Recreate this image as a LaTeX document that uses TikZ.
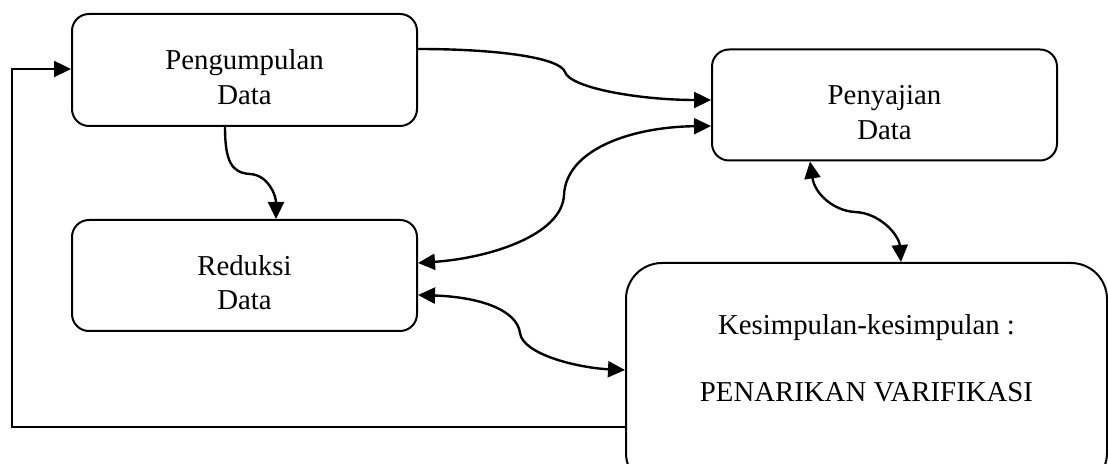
\documentclass[tikz,border=0pt]{standalone}
\usepackage{fontspec}
\setmainfont{Liberation Serif}
\usetikzlibrary{arrows.meta,calc}
\tikzset{
  boxstyle/.style={draw, line width=1pt, rounded corners=8.5pt, inner sep=0pt, align=center,
    font=\fontsize{14.4}{17.3}\selectfont},
  conn/.style={line width=1.2pt},
  tipend/.style={conn, -{Triangle[length=8.5pt,width=8pt]}},
  tipboth/.style={conn, {Triangle[length=8.5pt,width=8pt]}-{Triangle[length=8.5pt,width=8pt]}},
}
\newcommand{\topstrut}{\rule{0pt}{17pt}}
\begin{document}
\begin{tikzpicture}[x=0.5pt,y=-0.5pt]
\useasboundingbox (0,0) rectangle (1108,464);
\node[boxstyle, minimum width=172.5pt, minimum height=56pt] (pg) at (244.5,70) {\topstrut Pengumpulan\\Data};
\node[boxstyle, minimum width=172.5pt, minimum height=55.5pt] (rd) at (244.5,275.5) {\topstrut Reduksi\\Data};
\node[boxstyle, minimum width=172.5pt, minimum height=55.5pt] (pj) at (884.5,105) {\topstrut Penyajian\\Data};
\node[boxstyle, rounded corners=18pt, minimum width=240.5pt, minimum height=113pt] (ks) at (866.5,376)
  {Kesimpulan-kesimpulan :\\[16pt]PENARIKAN VARIFIKASI\rule[-18pt]{0pt}{18pt}};

\coordinate (a1s) at ($(pg.east)+(0,-21)$);
\coordinate (a1e) at ($(pj.west)+(0,-5)$);
\coordinate (a2r) at ($(rd.east)+(0,-12.5)$);
\coordinate (a2p) at ($(pj.west)+(0,21)$);
\coordinate (a3s) at ($(pg.south)+(-19.5,0)$);
\coordinate (a3e) at ($(rd.north)+(31.5,0)$);
\coordinate (a4s) at ($(pj.south)+(-74.5,0)$);
\coordinate (a4e) at ($(ks.north)+(34.5,0)$);
\coordinate (a5r) at ($(rd.east)+(0,19.5)$);
\coordinate (a5k) at ($(ks.west)+(0,-6)$);
\coordinate (fbs) at ($(ks.west)+(0,51)$);
\coordinate (fbx) at (12,300);
\coordinate (fbe) at ($(pg.west)+(0,-1)$);

\draw[tipend] (a1s) .. controls (500,49) and (560,58) .. (565,72) .. controls (570,88) and (640,100) .. (a1e);
\draw[tipboth] (a2r) .. controls (490,258) and (562,235) .. (564,195) .. controls (566,150) and (630,127) .. (a2p);
\draw[tipend] (a3s) .. controls (225,162) and (232,173) .. (250,174) .. controls (268,175) and (276,195) .. (a3e);
\draw[tipboth] (a4s) .. controls (815,195) and (835,211) .. (855,212) .. controls (880,213) and (899,235) .. (a4e);
\draw[tipboth] (a5r) .. controls (480,297) and (517,310) .. (520,333) .. controls (523,355) and (580,368) .. (a5k);
\draw[tipend] (fbs) -| (fbx) |- (fbe);
\end{tikzpicture}
\end{document}
